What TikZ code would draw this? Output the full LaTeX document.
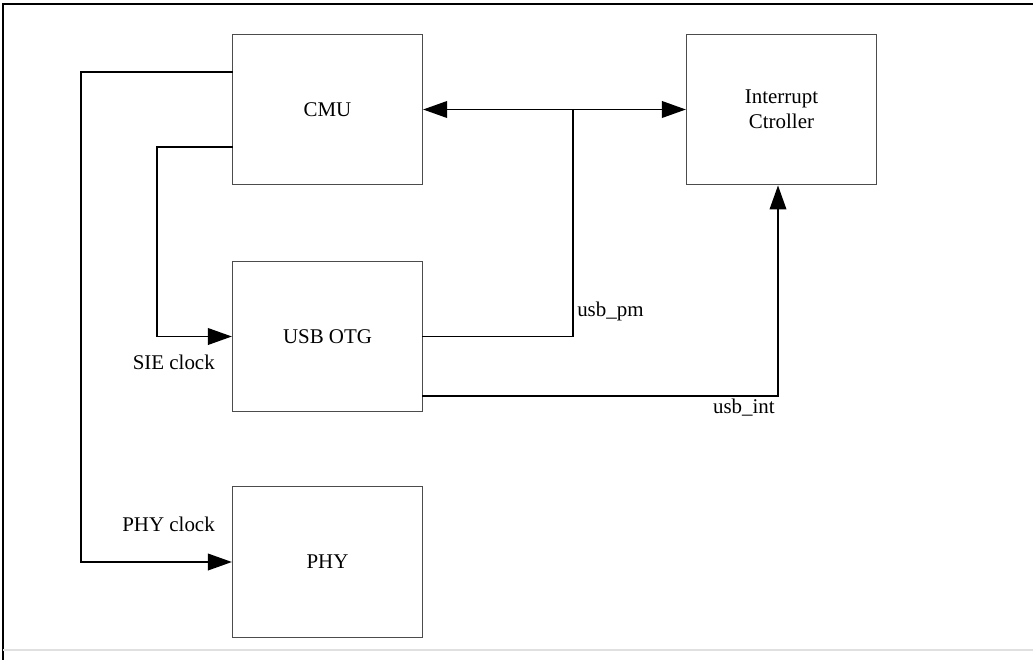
\documentclass[tikz,border=0pt]{standalone}
\usepackage{fontspec}
\setmainfont{Liberation Serif}
\usetikzlibrary{positioning}
\usetikzlibrary{arrows.meta}

\tikzset{
  block/.style={draw=black!70, line width=0.9pt, rectangle,
    minimum width=142.5pt, minimum height=113pt, align=center,
    font=\fontsize{15.7}{18.8}\selectfont},
  sig/.style={line width=1.2pt, line cap=rect},
  tip/.style={-{Triangle[length=18pt,width=12.5pt]}},
  lbl/.style={font=\fontsize{15.7}{18.8}\selectfont, inner sep=0pt}
}

\begin{document}
\begin{tikzpicture}[x=0.75pt, y=-0.75pt]

% Page
\useasboundingbox (0,0) rectangle (1033,660);
\draw[line width=1pt] (3,660) -- (3,4) -- (1033,4);
\draw[black!12, line width=1pt] (3,650) -- (1033,650);

% Blocks
\node[block] (cmu) at (327.5,109.5) {CMU};
\node[block] (intc) at (781.5,109.5) {Interrupt\\Ctroller};
\node[block] (otg) at (327.5,336.5) {USB OTG};
\node[block] (phy) at (327.5,562) {PHY};

% Bend points
\coordinate (pmjoin) at (573,110);
\coordinate (intbend) at (778,396);
\coordinate (siebend) at (157,147);
\coordinate (phybend) at (81,72);

% CMU <-> Interrupt Ctroller
\draw[sig, {Triangle[length=18pt,width=12.5pt]}-{Triangle[length=18pt,width=12.5pt]}] (cmu.east) -- (intc.west);

% usb_pm
\draw[sig] (pmjoin) |- (otg.east);
\node[lbl, anchor=west] (pmlbl) at (577,311) {usb\_pm};

% usb_int
\draw[sig, tip] (otg.east |- intbend) -| (intc.south -| intbend);
\node[lbl, anchor=east] (intlbl) at (775,408) {usb\_int};

% SIE clock
\draw[sig, tip] (cmu.west |- siebend) -- (siebend) |- (otg.west);
\node[lbl, anchor=east] (sielbl) at (215,362) {SIE clock};

% PHY clock
\draw[sig, tip] (cmu.west |- phybend) -- (phybend) |- (phy.west);
\node[lbl, anchor=east] (phylbl) at (215,524) {PHY clock};

\end{tikzpicture}
\end{document}
